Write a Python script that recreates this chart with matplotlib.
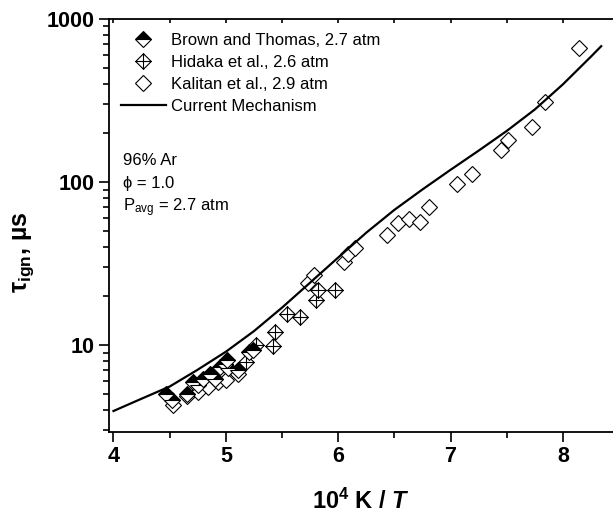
import numpy as np
import matplotlib
matplotlib.use("Agg")
import matplotlib.pyplot as plt
from matplotlib.path import Path
from matplotlib.ticker import LogLocator, FixedLocator, NullFormatter, FixedFormatter

plt.rcParams['font.family'] = ['Liberation Sans', 'DejaVu Sans']
plt.rcParams['mathtext.fontset'] = 'custom'
plt.rcParams['mathtext.rm'] = 'Liberation Sans'
plt.rcParams['mathtext.it'] = 'Liberation Sans:italic'
plt.rcParams['mathtext.bf'] = 'Liberation Sans:bold'
plt.rcParams['mathtext.bfit'] = 'Liberation Sans:italic:bold'

# Brown and Thomas, 2.7 atm
brown_x = [4.47, 4.52, 4.65, 4.71, 4.75, 4.80, 4.86, 4.90, 4.95, 4.99, 5.01, 5.02, 5.11, 5.21, 5.24]
brown_y = [5.0, 4.6, 5.0, 5.95, 5.7, 6.25, 6.7, 6.25, 7.35, 7.7, 8.1, 7.2, 7.0, 9.1, 9.4]

# Hidaka et al., 2.6 atm
hidaka_x = [5.18, 5.27, 5.42, 5.44, 5.54, 5.66, 5.80, 5.82, 5.97]
hidaka_y = [7.9, 10.0, 9.9, 12.0, 15.6, 14.9, 18.9, 21.7, 21.7]

# Kalitan et al., 2.9 atm
kalitan_x = [4.53, 4.65, 4.75, 4.84, 4.93, 5.00, 5.11, 5.73, 5.78, 6.05, 6.09, 6.15,
             6.43, 6.53, 6.63, 6.73, 6.81, 7.06, 7.19, 7.45, 7.51, 7.72, 7.84, 8.14]
kalitan_y = [4.3, 4.85, 5.2, 5.55, 5.95, 6.1, 6.7, 23.9, 26.8, 32.3, 36.1, 39.5,
             47.3, 55.8, 59.0, 57.0, 70.5, 98.0, 112.0, 157.0, 181.0, 218.0, 311.0, 660.0]

# Current Mechanism
model_x = [4.00, 4.25, 4.50, 4.75, 5.00, 5.25, 5.50, 5.75, 6.00, 6.25,
           6.50, 6.75, 7.00, 7.25, 7.50, 7.75, 8.00, 8.25, 8.34]
model_y = [3.95, 4.70, 5.58, 7.08, 9.12, 12.2, 17.0, 24.2, 34.5, 49.0,
           67.6, 90.2, 119.0, 156.0, 206.0, 279.0, 398.0, 589.0, 681.0]

# diamond with a cross inside (Hidaka symbol)
cross_diamond = Path([(0, 1), (1, 0), (0, -1), (-1, 0), (0, 1),
                      (-1, 0), (1, 0), (0, -1), (0, 1)],
                     [Path.MOVETO, Path.LINETO, Path.LINETO, Path.LINETO, Path.CLOSEPOLY,
                      Path.MOVETO, Path.LINETO, Path.MOVETO, Path.LINETO])

fig = plt.figure(figsize=(6.13, 5.16), dpi=100)
ax = fig.add_axes([0.1778, 0.1634, 0.8222, 0.7998])

ms = 7.9
ax.plot(kalitan_x, kalitan_y, linestyle='none', marker='D', ms=ms, mfc='white', mec='black',
        mew=0.8, label='Kalitan et al., 2.9 atm', zorder=2)
ax.plot(hidaka_x, hidaka_y, linestyle='none', marker=cross_diamond, ms=ms * 1.414, mfc='white',
        mec='black', mew=0.8, label='Hidaka et al., 2.6 atm', zorder=3)
ax.plot(brown_x, brown_y, linestyle='none', marker='D', ms=ms, fillstyle='top', mfc='black',
        mfcalt='white', mec='black', mew=0.8, label='Brown and Thomas, 2.7 atm', zorder=4)
ax.plot(model_x, model_y, color='black', lw=1.6, label='Current Mechanism', zorder=5)

ax.set_yscale('log')
ax.set_xlim(3.96, 8.445)
ax.set_ylim(2.95, 1000)

ax.xaxis.set_major_locator(FixedLocator([4, 5, 6, 7, 8]))
ax.xaxis.set_minor_locator(FixedLocator([4.5, 5.5, 6.5, 7.5]))
ax.yaxis.set_major_locator(FixedLocator([10, 100, 1000]))
ax.yaxis.set_major_formatter(FixedFormatter(['10', '100', '1000']))
ax.yaxis.set_minor_locator(LogLocator(base=10, subs=np.arange(2, 10), numticks=20))
ax.yaxis.set_minor_formatter(NullFormatter())

ax.tick_params(axis='both', which='major', direction='out', length=7, width=1.2,
               labelsize=15.5, pad=3)
ax.tick_params(axis='both', which='minor', direction='out', length=4, width=1.2)
ax.tick_params(axis='x', which='both', top=True, labeltop=False)
for t in ax.xaxis.get_major_ticks() + ax.xaxis.get_minor_ticks():
    t.tick2line.set_markersize(3)
    t.tick2line.set_marker(3)  # short inward ticks on top
for lab in ax.get_xticklabels() + ax.get_yticklabels():
    lab.set_fontweight('bold')

for side in ['left', 'bottom', 'top']:
    ax.spines[side].set_linewidth(1.3)
ax.spines['right'].set_visible(False)

ax.set_xlabel(r'10$^{\mathbf{4}}$ K / $\mathbfit{T}$', fontsize=17, fontweight='bold', labelpad=16)
ax.set_ylabel(r'$\mathbf{\tau_{ign}}$, µs', fontsize=18, fontweight='bold')
ax.yaxis.set_label_coords(-0.145, 0.435)

handles, labels = ax.get_legend_handles_labels()
order = [2, 1, 0, 3]
ax.legend([handles[i] for i in order], [labels[i] for i in order], loc='upper left',
          bbox_to_anchor=(0.0, 0.995), frameon=False, fontsize=12, handlelength=2.7,
          handletextpad=0.35, labelspacing=0.42, borderaxespad=0.3)

ax.text(0.028, 0.658, '96% Ar', transform=ax.transAxes, fontsize=12, va='center')
ax.text(0.028, 0.602, 'ϕ = 1.0', transform=ax.transAxes, fontsize=12, va='center')
ax.text(0.028, 0.543, r'P$_{\mathrm{avg}}$ = 2.7 atm', transform=ax.transAxes, fontsize=12, va='center')

fig.savefig('out.png', dpi=100)
